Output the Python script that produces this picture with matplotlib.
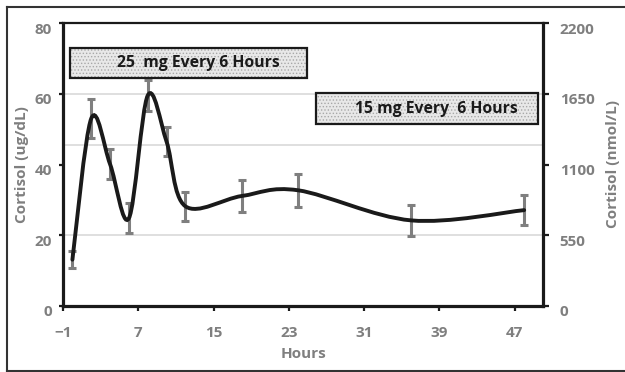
import matplotlib
matplotlib.use("Agg")
import matplotlib.pyplot as plt
import matplotlib.transforms as mtransforms
from matplotlib.path import Path
from matplotlib.patches import PathPatch, Rectangle
from matplotlib.lines import Line2D

# ---- data ----
hours = [0, 2, 4, 6, 8, 10, 12, 18, 24, 36, 48]
cortisol = [13.1, 53.0, 40.1, 24.8, 59.5, 46.5, 28.2, 31.1, 32.7, 24.2, 27.1]
err = [2.4, 5.5, 4.2, 4.2, 4.4, 4.1, 4.1, 4.5, 4.7, 4.4, 4.2]
x_ticks = [-1, 7, 15, 23, 31, 39, 47]
left_ticks = [0, 20, 40, 60, 80]
right_ticks = [0, 550, 1100, 1650, 2200]
grid_levels = [20, 45.5, 60]
box1_text = "25  mg Every 6 Hours"
box2_text = "15 mg Every  6 Hours"

plt.rcParams['font.family'] = ['Open Sans', 'DejaVu Sans']
plt.rcParams['hatch.linewidth'] = 0.6

GRAY = '#7f7f7f'
DARK = '#1a1a1a'

fig = plt.figure(figsize=(6.25, 3.72), dpi=100)
ax = fig.add_axes([63/625, 66/372, 480/625, 283/372])
ax.set_xlim(-1, 50)
ax.set_ylim(0, 80)

# gridlines
for g in grid_levels:
    ax.axhline(g, color='#d9d9d9', lw=1.2, zorder=0)

# error bars
ax.errorbar(hours, cortisol, yerr=err, fmt='none', ecolor=GRAY, elinewidth=2.2,
            capsize=3.2, capthick=2.2, zorder=3)

# smoothed line (Excel-style Catmull-Rom Bezier)
pts = list(zip(hours, cortisol))
verts = [pts[0]]
codes = [Path.MOVETO]
n = len(pts)
for i in range(n - 1):
    p0 = pts[i - 1] if i > 0 else pts[i]
    p1 = pts[i]
    p2 = pts[i + 1]
    p3 = pts[i + 2] if i + 2 < n else pts[i + 1]
    c1 = (p1[0] + (p2[0] - p0[0]) / 6, p1[1] + (p2[1] - p0[1]) / 6)
    c2 = (p2[0] - (p3[0] - p1[0]) / 6, p2[1] - (p3[1] - p1[1]) / 6)
    verts += [c1, c2, p2]
    codes += [Path.CURVE4] * 3
ax.add_patch(PathPatch(Path(verts, codes), fill=False, edgecolor=DARK, lw=2.8,
                       zorder=4, capstyle='round'))

# annotation boxes
def add_box(x0, y0, x1, y1, text, tx, ty):
    ax.add_patch(Rectangle((x0, y0), x1 - x0, y1 - y0, transform=ax.transAxes,
                           facecolor='#e8e8e8', edgecolor='#a8a8a8', hatch='.....',
                           lw=0, zorder=5))
    ax.add_patch(Rectangle((x0, y0), x1 - x0, y1 - y0, transform=ax.transAxes,
                           fill=False, edgecolor=DARK, lw=1.6, zorder=6))
    ax.text(tx, ty, text, transform=ax.transAxes, ha='center', va='center',
            fontsize=11.3, fontweight='bold', color=DARK, zorder=7)

add_box(0.0146, 0.806, 0.508, 0.912, box1_text, 0.283, 0.859)
add_box(0.527, 0.643, 0.990, 0.753, box2_text, 0.777, 0.696)

# axes styling
ax.set_xticks(x_ticks)
ax.set_yticks(left_ticks)
for side in ['left', 'bottom']:
    ax.spines[side].set_linewidth(2.3)
    ax.spines[side].set_color(DARK)
ax.spines['top'].set_linewidth(1.6)
ax.spines['top'].set_color(DARK)
ax.spines['right'].set_visible(False)
ax.tick_params(axis='y', direction='out', length=3, width=1.6, color=DARK,
               labelsize=11, labelcolor=GRAY, pad=5)
ax.tick_params(axis='x', direction='out', length=3.5, width=1.6, color=DARK,
               labelsize=11, labelcolor=GRAY, pad=11)
for lab in ax.get_xticklabels() + ax.get_yticklabels():
    lab.set_fontweight('bold')
ax.set_xlabel('Hours', fontsize=11, fontweight='bold', color=GRAY, labelpad=5)
ax.set_ylabel('Cortisol (ug/dL)', fontsize=11, fontweight='bold', color=GRAY, labelpad=4)

ax2 = ax.twinx()
ax2.set_ylim(0, 2200)
ax2.set_yticks(right_ticks)
for side in ['left', 'bottom', 'top']:
    ax2.spines[side].set_visible(False)
ax2.spines['right'].set_linewidth(2.3)
ax2.spines['right'].set_color(DARK)
ax2.tick_params(axis='y', direction='out', length=4, width=1.6, color=DARK,
                labelsize=11, labelcolor=GRAY, pad=8)
for lab in ax2.get_yticklabels():
    lab.set_fontweight('bold')
ax2.set_ylabel('Cortisol (nmol/L)', fontsize=11, fontweight='bold', color=GRAY,
               rotation=90, labelpad=8)
ax2.yaxis.set_label_position('right')

offset = mtransforms.ScaledTranslation(0, -0.05, fig.dpi_scale_trans)
for lab in ax.get_yticklabels() + ax2.get_yticklabels():
    lab.set_transform(lab.get_transform() + offset)

# outer frame (left, top, bottom)
W, H = 625, 372
frame_kw = dict(transform=fig.transFigure, color='#333333', lw=1.5)
fig.add_artist(Line2D([7/W, 7/W], [1 - 7/H, 1.5/H], **frame_kw))
fig.add_artist(Line2D([7/W, 1.0], [1 - 7/H, 1 - 7/H], **frame_kw))
fig.add_artist(Line2D([7/W, 1.0], [1.5/H, 1.5/H], **frame_kw))

fig.savefig('out.png', dpi=100)
